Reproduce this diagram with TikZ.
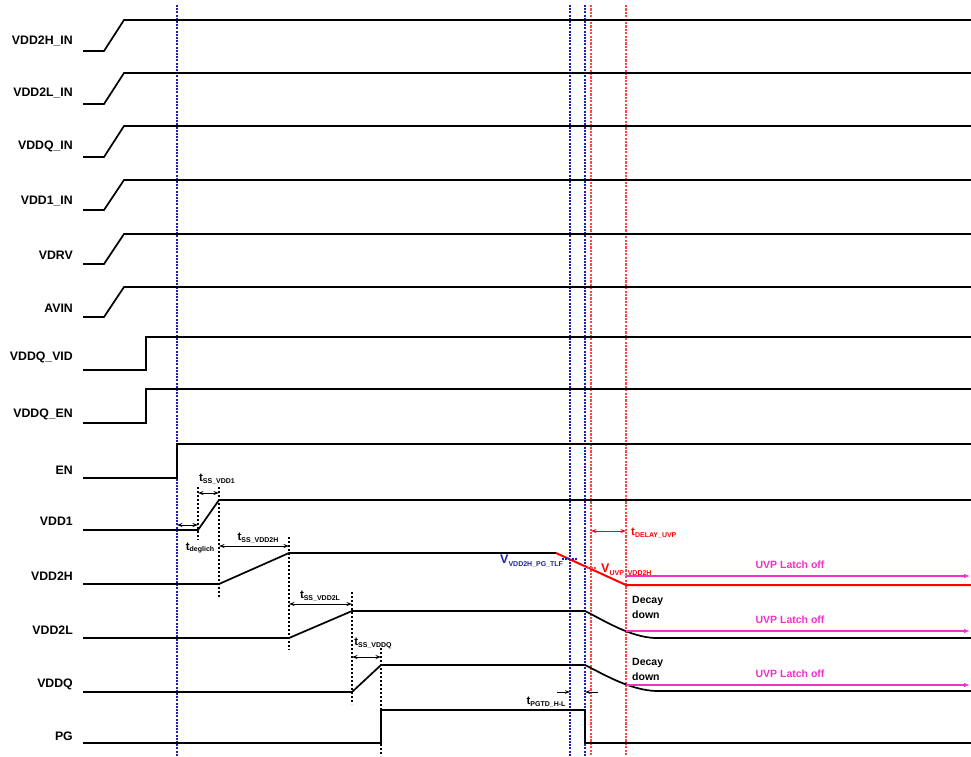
\documentclass[tikz,border=0pt]{standalone}
\usepackage{fontspec}
\setmainfont{Liberation Sans}
\usetikzlibrary{arrows.meta}
\definecolor{dblue}{RGB}{30,30,180}
\definecolor{lred}{RGB}{255,70,70}
\definecolor{mag}{RGB}{240,50,200}
\newcommand{\tsb}[2]{{\fontsize{11.5}{12}\selectfont #1}\raisebox{-0.35ex}{\fontsize{7}{8}\selectfont #2}}
\newcommand{\vsb}[2]{{\fontsize{12.5}{13}\selectfont #1}\raisebox{-0.45ex}{\fontsize{7}{8}\selectfont #2}}
\begin{document}
\begin{tikzpicture}[x=1pt,y=-1pt,
  sig/.style={line width=1.7pt, line join=miter},
  lbl/.style={anchor=east, font=\bfseries\fontsize{12.3}{14}\selectfont, inner sep=0pt},
  bdot/.style={dblue, line width=1.3pt, dash pattern=on 2pt off 1.2pt},
  rdot/.style={lred, line width=1.5pt, dash pattern=on 2.2pt off 1.2pt},
  kdot/.style={black, line width=1.1pt, dash pattern=on 2.2pt off 1.8pt},
  dimarrow/.style={line width=0.9pt, {Stealth[length=5.5pt,width=4pt]}-{Stealth[length=5.5pt,width=4pt]}},
  onearrow/.style={line width=0.8pt, -{Stealth[length=5pt,width=3.5pt]}},
  tl/.style={font=\bfseries, inner sep=0pt},
  uvp/.style={mag, line width=1.2pt, -{Latex[length=6pt,width=4.5pt]}},
  uvptxt/.style={mag, font=\bfseries\fontsize{10.5}{12}\selectfont, inner sep=0pt},
  decay/.style={anchor=west, font=\bfseries\fontsize{10.5}{12}\selectfont, inner sep=0pt},
]
\useasboundingbox (0,0) rectangle (971,756);
\fill[white] (0,0) rectangle (971,756);

% vertical timing markers
\draw[bdot] (177,5) -- (177,756);
\draw[bdot] (570,5) -- (570,756);
\draw[bdot] (585,5) -- (585,756);
\draw[rdot] (591,5) -- (591,756);
\draw[rdot] (626,5) -- (626,756);

% black dashed markers
\draw[kdot] (198,487) -- (198,540);
\draw[kdot] (219,487) -- (219,598);
\draw[kdot] (289,537) -- (289,650);
\draw[kdot] (352,592) -- (352,704);
\draw[kdot] (381,648) -- (381,756);

% input rails
\foreach \lo/\hi/\nm/\ly [count=\i] in {51/20/VDD2H\_IN/41, 104/73/VDD2L\_IN/93, 157/126/VDDQ\_IN/146, 210/180/VDD1\_IN/201, 264/234/VDRV/255, 317/287/AVIN/308}{
  \draw[sig] (83,\lo) -- (104,\lo) -- (124,\hi) -- (971,\hi);
  \node[lbl] (lab\i) at (73,\ly) {\nm};
}

% VDDQ_VID, VDDQ_EN, EN
\draw[sig] (83,370) -- (146,370) -- (146,337) -- (971,337);
\node[lbl] (lvid) at (73,357) {VDDQ\_VID};
\draw[sig] (83,423) -- (146,423) -- (146,389) -- (971,389);
\node[lbl] (lqen) at (73,414) {VDDQ\_EN};
\draw[sig] (83,478) -- (177,478) -- (177,444) -- (971,444);
\node[lbl] (len) at (73,470) {EN};

% VDD1
\draw[sig] (83,530) -- (198,530) -- (219,500) -- (971,500);
\node[lbl] (lvdd1) at (73,521) {VDD1};

% VDD2H
\draw[sig] (83,584) -- (219,584) -- (289,553) -- (556,553);
\draw[sig, red, line width=2pt] (556,553) -- (626,585) -- (971,585);
\node[lbl] (lvdd2h) at (73,576) {VDD2H};

% VDD2L
\draw[sig] (83,638) -- (289,638) -- (352,611) -- (585,611) .. controls (605,621) and (630,637) .. (655,638) -- (971,638);
\node[lbl] (lvdd2l) at (73,630) {VDD2L};

% VDDQ
\draw[sig] (83,692) -- (352,692) -- (381,665) -- (585,665) .. controls (605,675) and (630,690) .. (656,691) -- (971,691);
\node[lbl] (lvddq) at (73,684) {VDDQ};

% PG
\draw[sig] (83,743) -- (381,743) -- (381,710) -- (585,710) -- (585,743) -- (971,743);
\node[lbl] (lpg) at (73,736) {PG};

% timing dimensions
\coordinate (d1a) at (177,525); \coordinate (d1b) at (198,525);
\draw[dimarrow] (d1a) -- (d1b);
\node[tl] (tdeg) at (200,548) {\tsb{t}{deglich}};
\coordinate (d2a) at (198,493); \coordinate (d2b) at (219,493);
\draw[dimarrow] (d2a) -- (d2b);
\node[tl] (tss1) at (217,479) {\tsb{t}{SS\_VDD1}};
\coordinate (d3a) at (219,546); \coordinate (d3b) at (289,546);
\draw[dimarrow] (d3a) -- (d3b);
\node[tl] (tss2h) at (258,538) {\tsb{t}{SS\_VDD2H}};
\coordinate (d4a) at (289,604); \coordinate (d4b) at (352,604);
\draw[dimarrow] (d4a) -- (d4b);
\node[tl] (tss2l) at (320,596) {\tsb{t}{SS\_VDD2L}};
\coordinate (d5a) at (352,657); \coordinate (d5b) at (381,657);
\draw[dimarrow] (d5a) -- (d5b);
\node[tl] (tssq) at (373,643) {\tsb{t}{SS\_VDDQ}};
\coordinate (p1a) at (557,692); \coordinate (p1b) at (570,692);
\coordinate (p2a) at (598,692); \coordinate (p2b) at (585,692);
\draw[onearrow] (p1a) -- (p1b);
\draw[onearrow] (p2a) -- (p2b);
\node[tl] (tpg) at (546,702) {\tsb{t}{PGTD\_H-L}};
\coordinate (u1a) at (591,531); \coordinate (u1b) at (626,531);
\draw[dimarrow, red] (u1a) -- (u1b);
\node[tl, red, anchor=west] (tdel) at (631,533) {\tsb{t}{DELAY\_UVP}};

% threshold levels
\draw[bdot, line width=1.4pt] (562,559) -- (577,559);
\node[tl, dblue, anchor=west] (vpg) at (500,561) {\vsb{V}{VDD2H\_PG\_TLF}};
\draw[rdot, line width=1.4pt] (587,568) -- (597,568);
\node[tl, red, anchor=west] (vuvp) at (601,570) {\vsb{V}{UVP\_VDD2H}};

% UVP latch off
\coordinate (a1) at (626,576); \coordinate (b1) at (970,576);
\coordinate (a2) at (626,631); \coordinate (b2) at (970,631);
\coordinate (a3) at (626,685); \coordinate (b3) at (970,685);
\draw[uvp] (a1) -- (b1);
\draw[uvp] (a2) -- (b2);
\draw[uvp] (a3) -- (b3);
\node[uvptxt] (ul1) at (790,565) {UVP Latch off};
\node[uvptxt] (ul2) at (790,620) {UVP Latch off};
\node[uvptxt] (ul3) at (790,674) {UVP Latch off};

% decay
\node[decay] (dc1a) at (632,601) {Decay};
\node[decay] (dc1b) at (632,614.5) {down};
\node[decay] (dc2a) at (632,663) {Decay};
\node[decay] (dc2b) at (632,676.5) {down};
\end{tikzpicture}
\end{document}
